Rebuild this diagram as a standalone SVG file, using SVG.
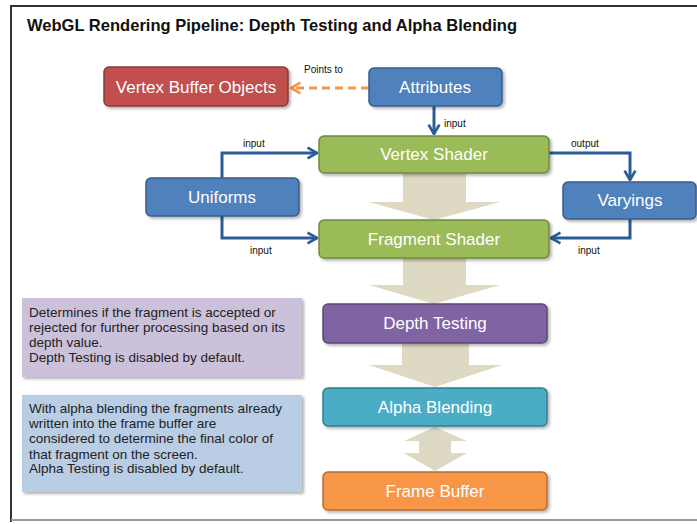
<svg xmlns="http://www.w3.org/2000/svg" width="697" height="524" viewBox="0 0 697 524">
<defs>
<style>
.nt{font-family:"Liberation Sans",Arial,sans-serif;font-size:17px;fill:#ffffff;text-anchor:middle}
.lb{font-family:"Liberation Sans",Arial,sans-serif;font-size:10px;fill:#111}
.dt{font-family:"Liberation Sans",Arial,sans-serif;font-size:13.5px;fill:#222}
.con{fill:none;stroke:#2b5c97;stroke-width:3;stroke-linejoin:miter}
.big{fill:#ddd9c3}
</style>
<marker id="chev" viewBox="0 0 10 10" refX="9" refY="5" markerWidth="4.5" markerHeight="4.5" markerUnits="strokeWidth" orient="auto">
<path d="M2,1 L9,5 L2,9" fill="none" stroke="#2b5c97" stroke-width="2"/>
</marker>
<marker id="chevo" viewBox="0 0 10 10" refX="9" refY="5" markerWidth="4.5" markerHeight="4.5" markerUnits="strokeWidth" orient="auto">
<path d="M2,1 L9,5 L2,9" fill="none" stroke="#f79646" stroke-width="2"/>
</marker>
<filter id="sh" x="-10%" y="-10%" width="130%" height="140%">
<feDropShadow dx="2" dy="2" stdDeviation="1.5" flood-color="#000" flood-opacity="0.3"/>
</filter>
</defs>
<rect x="0" y="0" width="697" height="524" fill="#ffffff"/>
<path d="M11,522 L11,6 L697,6" fill="none" stroke="#333" stroke-width="2"/>
<line x1="11" y1="520" x2="697" y2="520" stroke="#999" stroke-width="2"/>
<text x="27" y="31" font-family="Liberation Sans,Arial,sans-serif" font-weight="bold" font-size="16.5" fill="#111" textLength="490" lengthAdjust="spacingAndGlyphs">WebGL Rendering Pipeline: Depth Testing and Alpha Blending</text>

<g id="bigarrows">
<path class="big" d="M403,173 H466 V202 H500 L434,220 L369,202 H403 Z"/>
<path class="big" d="M403,258 H466 V285 H500 L434,304 L369,285 H403 Z"/>
<path class="big" d="M402,343 H469 V365 H502 L435,387 L369,365 H402 Z"/>
<path class="big" d="M435,427 L467,441 H451 V453 H467 L435,471 L404,453 H419 V441 H404 Z"/>
</g>

<g id="connectors">
<line class="con" x1="434" y1="106" x2="434" y2="134" marker-end="url(#chev)"/>
<path class="con" d="M222,178 V153 H317" marker-end="url(#chev)"/>
<path class="con" d="M222,216 V238 H317" marker-end="url(#chev)"/>
<path class="con" d="M549,153 H630 V180" marker-end="url(#chev)"/>
<path class="con" d="M630,219 V238 H551" marker-end="url(#chev)"/>
<line x1="369" y1="88" x2="291" y2="88" fill="none" stroke="#f79646" stroke-width="3" stroke-dasharray="8,5" marker-end="url(#chevo)"/>
<text class="lb" x="304" y="73">Points to</text>
<text class="lb" x="444" y="127">input</text>
<text class="lb" x="243" y="147">input</text>
<text class="lb" x="250" y="254">input</text>
<text class="lb" x="571" y="147">output</text>
<text class="lb" x="578" y="254">input</text>
</g>

<g id="vbo"><rect x="104" y="67" width="184" height="39" rx="5" fill="#c0504d" stroke="#8c3836" stroke-width="1.5" filter="url(#sh)"/><text class="nt" x="196" y="93">Vertex Buffer Objects</text></g>
<g id="attributes"><rect x="369" y="68" width="133" height="38" rx="5" fill="#4f81bd" stroke="#385d8a" stroke-width="1.5" filter="url(#sh)"/><text class="nt" x="435" y="93">Attributes</text></g>
<g id="vertexshader"><rect x="319" y="136" width="230" height="37" rx="5" fill="#9bbb59" stroke="#71893f" stroke-width="1.5" filter="url(#sh)"/><text class="nt" x="434" y="160">Vertex Shader</text></g>
<g id="uniforms"><rect x="146" y="178" width="153" height="38" rx="5" fill="#4f81bd" stroke="#385d8a" stroke-width="1.5" filter="url(#sh)"/><text class="nt" x="222" y="203">Uniforms</text></g>
<g id="varyings"><rect x="563" y="182" width="133" height="37" rx="5" fill="#4f81bd" stroke="#385d8a" stroke-width="1.5" filter="url(#sh)"/><text class="nt" x="630" y="206">Varyings</text></g>
<g id="fragmentshader"><rect x="319" y="220" width="230" height="38" rx="5" fill="#9bbb59" stroke="#71893f" stroke-width="1.5" filter="url(#sh)"/><text class="nt" x="434" y="245">Fragment Shader</text></g>
<g id="depthtesting"><rect x="323" y="304" width="224" height="39" rx="5" fill="#8064a2" stroke="#5c4776" stroke-width="1.5" filter="url(#sh)"/><text class="nt" x="435" y="329">Depth Testing</text></g>
<g id="alphablending"><rect x="323" y="388" width="224" height="38" rx="5" fill="#4bacc6" stroke="#357d91" stroke-width="1.5" filter="url(#sh)"/><text class="nt" x="435" y="413">Alpha Blending</text></g>
<g id="framebuffer"><rect x="323" y="472" width="224" height="38" rx="5" fill="#f79646" stroke="#b66d31" stroke-width="1.5" filter="url(#sh)"/><text class="nt" x="435" y="497">Frame Buffer</text></g>

<g id="depthnote">
<rect x="22" y="298" width="280" height="79" fill="#ccc1da" filter="url(#sh)"/>
<text class="dt" x="29" y="317">Determines if the fragment is accepted or</text>
<text class="dt" x="29" y="332">rejected for further processing based on its</text>
<text class="dt" x="29" y="347">depth value.</text>
<text class="dt" x="29" y="362">Depth Testing is disabled by default.</text>
</g>
<g id="alphanote">
<rect x="22" y="395" width="280" height="97" fill="#b9cde5" filter="url(#sh)"/>
<text class="dt" x="29" y="413">With alpha blending the fragments already</text>
<text class="dt" x="29" y="428">written into the frame buffer are</text>
<text class="dt" x="29" y="443">considered to determine the final color of</text>
<text class="dt" x="29" y="459">that fragment on the screen.</text>
<text class="dt" x="29" y="473">Alpha Testing is disabled by default.</text>
</g>
</svg>
